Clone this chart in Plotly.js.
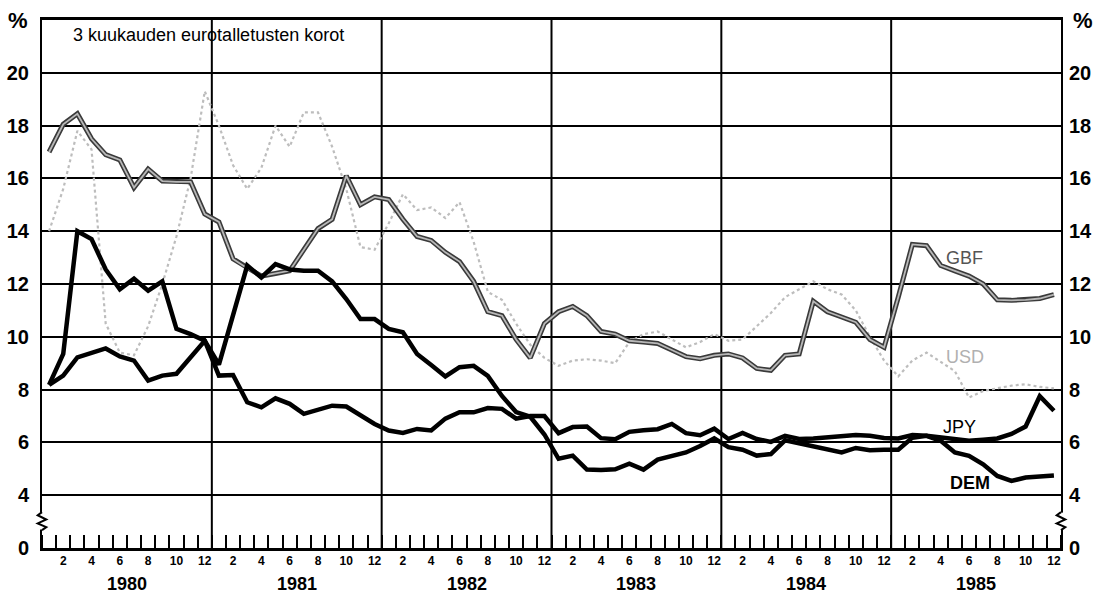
<!DOCTYPE html>
<html><head><meta charset="utf-8">
<script src="https://cdn.plot.ly/plotly-3.0.1.min.js"></script>
<style>html,body{margin:0;padding:0;background:#fff}#chart{width:1101px;height:594px}</style>
</head><body><div id="chart"></div>
<script>
const years = [1980, 1981, 1982, 1983, 1984, 1985];
const monthLabels = ['2', '4', '6', '8', '10', '12'];
const yTickVals = [2, 4, 6, 8, 10, 12, 14, 16, 18, 20];
const yTickLabels = ['0', '4', '6', '8', '10', '12', '14', '16', '18', '20'];
const seriesNames = ['GBF', 'USD', 'JPY', 'DEM'];

const gbp = [17.0, 18.05, 18.45, 17.5, 16.9, 16.7, 15.65, 16.35, 15.9, 15.87, 15.87, 14.65,
  14.35, 12.95, 12.6, 12.3, 12.4, 12.5, 13.3, 14.1, 14.45, 16.1, 15.0, 15.3,
  15.2, 14.45, 13.8, 13.65, 13.2, 12.85, 12.1, 10.95, 10.8, 9.9, 9.2, 10.5,
  10.95, 11.15, 10.8, 10.2, 10.1, 9.85, 9.8, 9.75, 9.5, 9.25, 9.17, 9.3,
  9.35, 9.2, 8.8, 8.73, 9.3, 9.35, 11.35, 10.95, 10.75, 10.55, 9.9, 9.6,
  11.5, 13.5, 13.45, 12.7, 12.5, 12.3, 12.0, 11.4, 11.38, 11.4, 11.45, 11.6];

const usd = [14.0, 15.6, 17.8, 17.1, 10.5, 9.4, 9.3, 10.4, 12.0, 13.8, 16.0, 19.3,
  18.0, 16.5, 15.6, 16.4, 18.0, 17.2, 18.5, 18.5, 17.2, 15.6, 13.4, 13.3,
  14.3, 15.4, 14.8, 14.9, 14.5, 15.1, 13.6, 11.7, 11.4, 10.5, 9.7, 9.2,
  8.9, 9.1, 9.15, 9.1, 9.0, 9.8, 10.1, 10.2, 9.9, 9.6, 9.8, 10.1,
  9.85, 9.9, 10.4, 10.9, 11.5, 11.8, 12.1, 11.8, 11.6, 11.0, 10.0, 9.1,
  8.5, 9.1, 9.4, 9.05, 8.7, 7.7, 7.95, 8.05, 8.15, 8.2, 8.1, 8.05];

const jpy = [8.18, 9.35, 14.0, 13.7, 12.55, 11.8, 12.2, 11.75, 12.1, 10.3, 10.1, 9.85,
  8.53, 8.55, 7.52, 7.33, 7.67, 7.46, 7.08, 7.24, 7.39, 7.36, 7.02, 6.7,
  6.45, 6.36, 6.51, 6.45, 6.9, 7.14, 7.14, 7.3, 7.27, 6.9, 7.0, 7.0,
  6.35, 6.58, 6.6, 6.16, 6.12, 6.4, 6.46, 6.5, 6.7, 6.35, 6.27, 6.52,
  6.13, 6.36, 6.13, 6.02, 6.25, 6.13, 6.15, 6.19, 6.25, 6.28, 6.25, 6.17,
  6.15, 6.28, 6.25, 6.19, 6.13, 6.06, 6.1, 6.15, 6.32, 6.6, 7.75, 7.2];

const dem = [8.18, 8.53, 9.22, 9.39, 9.56, 9.26, 9.1, 8.34, 8.53, 8.6, 9.22, 9.85,
  8.95, 10.8, 12.7, 12.25, 12.75, 12.55, 12.5, 12.5, 12.1, 11.43, 10.67, 10.67,
  10.3, 10.17, 9.35, 8.93, 8.5, 8.85, 8.9, 8.52, 7.76, 7.15, 6.97, 6.3,
  5.38, 5.5, 4.97, 4.95, 4.98, 5.19, 4.97, 5.35, 5.5, 5.62, 5.86, 6.15,
  5.82, 5.72, 5.5, 5.56, 6.08, 5.97, 5.84, 5.76, 5.62, 5.79, 5.7, 5.72,
  5.72, 6.18, 6.25, 6.06, 5.62, 5.49, 5.17, 4.73, 4.54, 4.67, 4.7, 4.75];

const months = gbp.map((_, i) => i + 1);

const FONT = 'Liberation Sans, Arial, Helvetica, sans-serif';

const traces = [
  {x: months, y: usd, mode: 'lines', line: {color: '#bdbdbd', width: 2.2, dash: 'dot'}, name: seriesNames[1]},
  {x: months, y: gbp, mode: 'lines', line: {color: '#3a3a3a', width: 5}, name: seriesNames[0]},
  {x: months, y: gbp, mode: 'lines', line: {color: '#b8b8b8', width: 1.8}, name: seriesNames[0]},
  {x: months, y: jpy, mode: 'lines', line: {color: '#000', width: 4.5}, name: seriesNames[2]},
  {x: months, y: dem, mode: 'lines', line: {color: '#000', width: 4.5}, name: seriesNames[3]},
  {x: [1], y: [null], yaxis: 'y2', mode: 'lines', showlegend: false, hoverinfo: 'skip'}
];

const monthTickVals = [], monthTickText = [];
years.forEach((yr, k) => monthLabels.forEach(m => {
  monthTickVals.push(12 * k + Number(m));
  monthTickText.push(m);
}));

const shapes = [];
years.slice(1).forEach((yr, k) => shapes.push({
  type: 'line', xref: 'x', yref: 'paper', x0: 12 * (k + 1) + 0.5, x1: 12 * (k + 1) + 0.5,
  y0: 0, y1: 1, line: {color: '#000', width: 2}, layer: 'below'
}));
[0, 1].forEach(s => {
  shapes.push({type: 'rect', xref: 'paper', yref: 'y', x0: s - 0.005, x1: s + 0.005, y0: 2.7, y1: 3.34,
    fillcolor: '#fff', line: {width: 0}, layer: 'above'});
  const d = 0.0042;
  shapes.push({type: 'path', xref: 'paper', yref: 'y',
    path: `M ${s} 3.36 L ${s - d} 3.24 L ${s + d} 3.08 L ${s - d} 2.93 L ${s + d} 2.79 L ${s} 2.68`,
    line: {color: '#000', width: 2}, layer: 'above'});
});

const annotations = [];
years.forEach((yr, k) => annotations.push({
  xref: 'x', yref: 'paper', x: 12 * k + 6.5, y: 0, yanchor: 'top', yshift: -24,
  text: String(yr), showarrow: false, font: {family: FONT, size: 18, weight: 'bold', color: '#000'}
}));
annotations.push({xref: 'paper', yref: 'paper', x: 0.028, y: 0.9716, xanchor: 'left', yanchor: 'middle',
  text: '3 kuukauden eurotalletusten korot', showarrow: false, font: {family: FONT, size: 18, color: '#000'}});
annotations.push({xref: 'paper', yref: 'paper', x: -0.0236, y: 1.0, xanchor: 'center', yanchor: 'middle',
  text: '%', showarrow: false, font: {family: FONT, size: 22, weight: 'bold', color: '#000'}});
annotations.push({xref: 'paper', yref: 'paper', x: 1.0216, y: 1.0, xanchor: 'center', yanchor: 'middle',
  text: '%', showarrow: false, font: {family: FONT, size: 22, weight: 'bold', color: '#000'}});
annotations.push({xref: 'x', yref: 'y', x: 65.7, y: 12.98, text: seriesNames[0], showarrow: false,
  font: {family: FONT, size: 18, color: '#555'}});
annotations.push({xref: 'x', yref: 'y', x: 65.7, y: 9.25, text: seriesNames[1], showarrow: false,
  font: {family: FONT, size: 18, color: '#b0b0b0'}});
annotations.push({xref: 'x', yref: 'y', x: 65.3, y: 6.6, text: seriesNames[2], showarrow: false,
  font: {family: FONT, size: 18, color: '#000'}});
annotations.push({xref: 'x', yref: 'y', x: 66.1, y: 4.47, text: seriesNames[3], showarrow: false,
  font: {family: FONT, size: 18, weight: 'bold', color: '#000'}});

const yAxisCommon = {
  range: [2, 22], tickmode: 'array', tickvals: yTickVals, ticktext: yTickLabels,
  showgrid: true, gridcolor: '#000', gridwidth: 2, zeroline: false, ticks: '',
  ticklabelstandoff: 7,
  tickfont: {family: FONT, size: 20, weight: 'bold', color: '#000'}, fixedrange: true
};

const layout = {
  width: 1101, height: 594,
  margin: {l: 42, r: 40, t: 20, b: 46},
  paper_bgcolor: '#fff', plot_bgcolor: '#fff',
  showlegend: false,
  xaxis: {
    range: [0.5, 72.5], tickmode: 'array', tickvals: monthTickVals, ticktext: monthTickText,
    ticks: '', showgrid: false, zeroline: false,
    showline: true, linecolor: '#000', linewidth: 3, mirror: true,
    tickfont: {family: FONT, size: 12, weight: 'bold', color: '#000'},
    minor: {tick0: 0.5, dtick: 1, ticks: 'inside', ticklen: 13, tickwidth: 2, tickcolor: '#000', showgrid: false},
    fixedrange: true
  },
  yaxis: Object.assign({}, yAxisCommon, {side: 'left', showline: true, linecolor: '#000', linewidth: 2, mirror: true}),
  yaxis2: Object.assign({}, yAxisCommon, {side: 'right', overlaying: 'y', showgrid: false, showline: false}),
  shapes: shapes,
  annotations: annotations
};

Plotly.newPlot('chart', traces, layout, {displayModeBar: false, staticPlot: true});
</script>
</body></html>
